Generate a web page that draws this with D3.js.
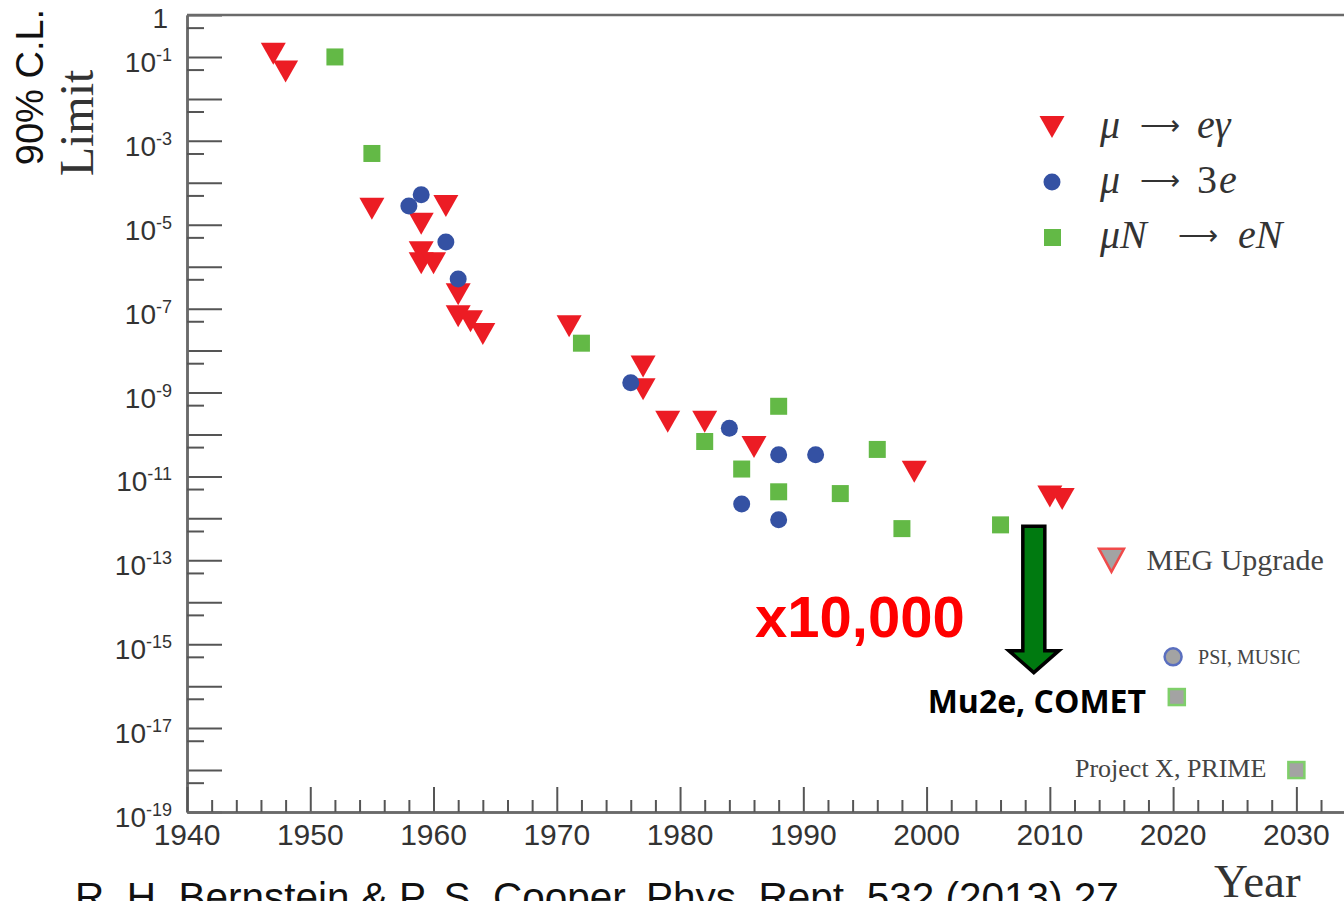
<!DOCTYPE html>
<html>
<head>
<meta charset="utf-8">
<script src="https://cdn.jsdelivr.net/npm/d3@7"></script>
<style>
  body { margin: 0; background: #fff; }
  svg { display: block; }
</style>
</head>
<body>
<div id="chart"></div>
<script>
// values (90% C.L. upper limits)
const megYears  = [1947, 1948, 1955, 1959, 1959, 1959, 1960, 1961, 1962, 1962, 1963, 1964, 1971, 1977, 1977, 1979, 1982, 1986, 1999, 2010, 2011];
const megLimits = [1.2e-1, 4.5e-2, 2.4e-5, 1.05e-5, 2.2e-6, 1.2e-6, 1.2e-6, 2.8e-5, 2.2e-7, 6.6e-8, 5e-8, 2.5e-8, 3.8e-8, 4.2e-9, 1.2e-9, 2e-10, 2e-10, 5e-11, 1.3e-11, 3.3e-12, 2.9e-12];

const threeEYears  = [1958, 1959, 1961, 1962, 1976, 1984, 1985, 1988, 1988, 1991];
const threeELimits = [2.8e-5, 5.2e-5, 3.9e-6, 5.1e-7, 1.7e-9, 1.4e-10, 2.2e-12, 3.3e-11, 9.3e-13, 3.3e-11];

const convYears  = [1952, 1955, 1972, 1982, 1985, 1988, 1988, 1993, 1996, 1998, 2006];
const convLimits = [1e-1, 5e-4, 1.5e-8, 6.8e-11, 1.5e-11, 4.7e-10, 4.3e-12, 3.9e-12, 4.4e-11, 5.7e-13, 7e-13];

// planned experiments
const futureNames  = ['MEG Upgrade', 'PSI, MUSIC', 'Mu2e, COMET', 'Project X, PRIME'];
const futureKinds  = ['tri', 'circle', 'square', 'square'];
const futureYears  = [2015, 2020, 2020.3, 2030];
const futureLimits = [1e-13, 5e-16, 5.5e-17, 1e-18];

// green arrow: from today's limit down by x10,000
const arrowYear = 2008.7;
const arrowFrom = 6.5e-13;
const arrowTo   = 2.1e-16;

const xTickLabels = d3.range(1940, 2031, 10);
const yLabelExps  = d3.range(-19, 0, 2);

const W = 1344, H = 901;
const red = '#ec1c24', blue = '#3451a3', green = '#63b946';

const svg = d3.select('#chart').append('svg')
  .attr('width', W).attr('height', H);

const x = d3.scaleLinear().domain([1940, 2035]).range([187, 1358]);
const y = d3.scaleLog().domain([1e-19, 1]).range([812, 15]);

const decades = d3.range(-19, 1).map(e => Math.pow(10, e));
const fives = d3.range(-19, 0).map(e => 5 * Math.pow(10, e));

function styleAxis(g) {
  g.select('.domain').attr('stroke', '#6a6a6a').attr('stroke-width', 2.5);
  g.selectAll('.tick line').attr('stroke', '#555').attr('stroke-width', 2);
  g.selectAll('.tick text').remove();
}

// y ticks: long at decades, short at 5x
svg.append('g').attr('transform', `translate(${x(1940)},0)`)
  .call(d3.axisLeft(y).tickValues(decades).tickSizeInner(-35).tickSizeOuter(0))
  .call(styleAxis);
svg.append('g').attr('transform', `translate(${x(1940)},0)`)
  .call(d3.axisLeft(y).tickValues(fives).tickSizeInner(-17).tickSizeOuter(0))
  .call(styleAxis);

// x ticks: long at decades, short every 2 years
svg.append('g').attr('transform', `translate(0,${y(1e-19)})`)
  .call(d3.axisBottom(x).tickValues(d3.range(1940, 2036, 10)).tickSizeInner(-25).tickSizeOuter(0))
  .call(styleAxis);
svg.append('g').attr('transform', `translate(0,${y(1e-19)})`)
  .call(d3.axisBottom(x).tickValues(d3.range(1940, 2036, 2).filter(v => v % 10)).tickSizeInner(-12).tickSizeOuter(0))
  .call(styleAxis);

// top frame
svg.append('line')
  .attr('x1', x(1940)).attr('x2', x(2035))
  .attr('y1', y(1)).attr('y2', y(1))
  .attr('stroke', '#6a6a6a').attr('stroke-width', 2.5);

// tick labels
const lab = svg.append('g').attr('font-family', 'Liberation Sans, Arial, sans-serif').attr('fill', '#333');
yLabelExps.forEach(e => {
  const t = lab.append('text').attr('x', 172).attr('y', y(Math.pow(10, e)) + 15)
    .attr('text-anchor', 'end');
  t.append('tspan').attr('font-size', 28).text('10');
  t.append('tspan').attr('font-size', 18).attr('dy', -11).text(String(e));
});
lab.append('text').attr('x', 168).attr('y', y(1) + 13).attr('text-anchor', 'end')
  .attr('font-size', 28).text('1');

lab.selectAll('.xl').data(xTickLabels).join('text')
  .attr('x', d => x(d)).attr('y', 845)
  .attr('text-anchor', 'middle').attr('font-size', 30)
  .text(d => d);

// marker helpers
function tri(cx, cy, w, h) {
  return `M${cx - w / 2},${cy - h / 2}L${cx + w / 2},${cy - h / 2}L${cx},${cy + h / 2}Z`;
}

const marks = svg.append('g');
marks.selectAll('.meg').data(megYears).join('path')
  .attr('d', (d, i) => tri(x(d), y(megLimits[i]), 25, 22))
  .attr('fill', red);
marks.selectAll('.three').data(threeEYears).join('circle')
  .attr('cx', d => x(d)).attr('cy', (d, i) => y(threeELimits[i]))
  .attr('r', 8.5).attr('fill', blue);
marks.selectAll('.conv').data(convYears).join('rect')
  .attr('x', d => x(d) - 8.5).attr('y', (d, i) => y(convLimits[i]) - 8.5)
  .attr('width', 17).attr('height', 17).attr('fill', green);

// future experiments
const fut = svg.append('g');
futureYears.forEach((yr, i) => {
  const cx = x(yr), cy = y(futureLimits[i]);
  if (futureKinds[i] === 'tri') {
    fut.append('path').attr('d', tri(cx, cy, 25, 23))
      .attr('fill', '#a3a3a3').attr('stroke', '#f04a4a').attr('stroke-width', 2.5);
  } else if (futureKinds[i] === 'circle') {
    fut.append('circle').attr('cx', cx).attr('cy', cy).attr('r', 8.5)
      .attr('fill', '#a3a3a3').attr('stroke', '#5a6fbf').attr('stroke-width', 2.5);
  } else {
    fut.append('rect').attr('x', cx - 8).attr('y', cy - 8).attr('width', 16).attr('height', 16)
      .attr('fill', '#a3a3a3').attr('stroke', '#7fcf6a').attr('stroke-width', 2.5);
  }
});
const serif = 'Liberation Serif, Times New Roman, serif';
fut.append('text').attr('x', x(futureYears[0]) + 35).attr('y', y(futureLimits[0]) + 10)
  .attr('font-family', serif).attr('font-size', 30).attr('fill', '#444').text(futureNames[0]);
fut.append('text').attr('x', x(futureYears[1]) + 25).attr('y', y(futureLimits[1]) + 7)
  .attr('font-family', serif).attr('font-size', 20).attr('fill', '#444').text(futureNames[1]);
fut.append('text').attr('x', x(futureYears[3]) - 30).attr('y', y(futureLimits[3]) + 7)
  .attr('text-anchor', 'end')
  .attr('font-family', serif).attr('font-size', 26).attr('fill', '#444').text(futureNames[3]);
fut.append('text').attr('x', 1146).attr('y', 713).attr('text-anchor', 'end')
  .attr('font-family', 'Open Sans, sans-serif').attr('font-weight', 700)
  .attr('font-size', 32).attr('fill', '#000').text(futureNames[2]);

// big green arrow
const ax = x(arrowYear), a0 = y(arrowFrom), a1 = y(arrowTo);
const sw = 11, hw = 25, hh = 22;
svg.append('path')
  .attr('d', `M${ax - sw},${a0}L${ax + sw},${a0}L${ax + sw},${a1 - hh}L${ax + hw},${a1 - hh}L${ax},${a1}L${ax - hw},${a1 - hh}L${ax - sw},${a1 - hh}Z`)
  .attr('fill', '#007a10').attr('stroke', '#000').attr('stroke-width', 3.5)
  .attr('stroke-linejoin', 'miter');

svg.append('text').attr('x', 755).attr('y', 637)
  .attr('font-family', 'Liberation Sans, Arial, sans-serif').attr('font-weight', 700)
  .attr('font-size', 58).attr('fill', '#ff0000').text('x10,000');

// legend
const legend = svg.append('g').attr('font-family', serif).attr('font-size', 40).attr('fill', '#333');
legend.append('path').attr('d', tri(1052, 127, 25, 22)).attr('fill', red);
legend.append('circle').attr('cx', 1052).attr('cy', 182).attr('r', 8.5).attr('fill', blue);
legend.append('rect').attr('x', 1044).attr('y', 229).attr('width', 17).attr('height', 17).attr('fill', green);

// each part: [text, italic, x]
function legendRow(yy, parts) {
  const t = legend.append('text').attr('y', yy);
  parts.forEach(p => {
    const s = t.append('tspan').attr('x', p[2]).attr('y', yy)
      .attr('font-style', p[1] ? 'italic' : 'normal').text(p[0]);
    if (p[0] === '⟶') s.attr('font-size', 28).attr('y', yy - 3);
  });
}
legendRow(138, [['μ', 1, 1100], ['⟶', 0, 1140], ['eγ', 1, 1197]]);
legendRow(193, [['μ', 1, 1100], ['⟶', 0, 1140], ['3', 0, 1197], ['e', 1, 1219]]);
legendRow(248, [['μN', 1, 1100], ['⟶', 0, 1178], ['eN', 1, 1238]]);

// axis titles
svg.append('text').attr('transform', 'translate(43,87) rotate(-90)')
  .attr('text-anchor', 'middle')
  .attr('font-family', 'Liberation Sans, Arial, sans-serif').attr('font-size', 38)
  .attr('fill', '#111').text('90% C.L.');
svg.append('text').attr('transform', 'translate(93,123) rotate(-90)')
  .attr('text-anchor', 'middle')
  .attr('font-family', serif).attr('font-size', 48)
  .attr('fill', '#333').text('Limit');
svg.append('text').attr('x', 1214).attr('y', 897)
  .attr('font-family', serif).attr('font-size', 47)
  .attr('fill', '#333').text('Year');

// citation, cut off by the bottom edge as in the source image
svg.append('text').attr('x', 75).attr('y', 911)
  .attr('font-family', 'Liberation Sans, Arial, sans-serif').attr('font-size', 40.5)
  .attr('fill', '#111').text('R. H. Bernstein & P. S. Cooper, Phys. Rept. 532 (2013) 27');
</script>
</body>
</html>
